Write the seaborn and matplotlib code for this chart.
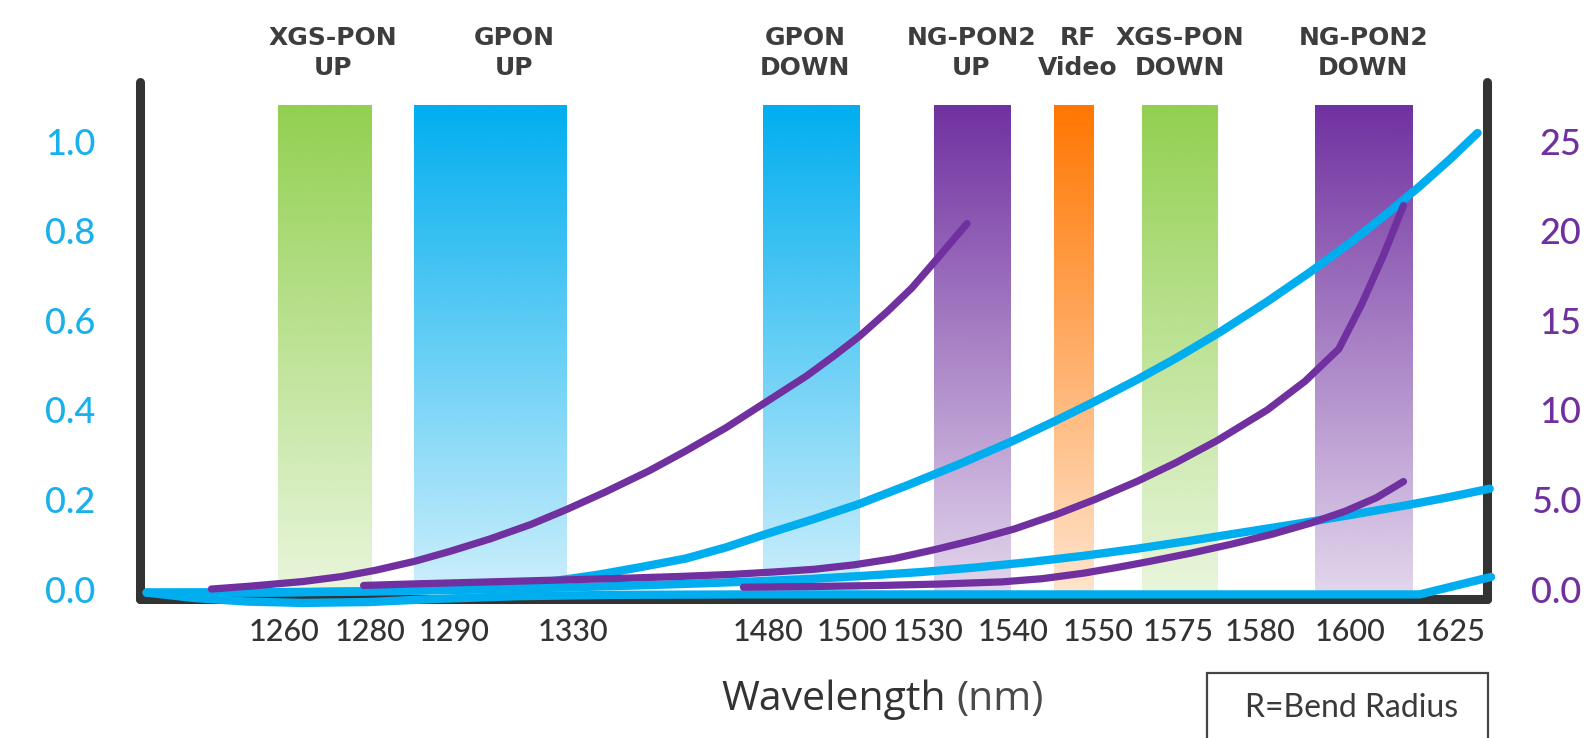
import numpy as np
import pandas as pd
import seaborn as sns
import matplotlib.pyplot as plt
from matplotlib.colors import to_rgb
from matplotlib.patches import Rectangle

# x is an axis position from 0 (left spine) to 100 (right spine); the wavelength
# labels are not evenly spaced, so they are placed on that position scale
tick_pos = [10.7, 17.1, 23.3, 32.15, 46.6, 52.9, 58.5, 64.8, 71.1, 77.1, 83.15, 89.8, 97.25]
tick_labels = ["1260", "1280", "1290", "1330", "1480", "1500", "1530",
               "1540", "1550", "1575", "1580", "1600", "1625"]

band_names = ["XGS-PON\nUP", "GPON\nUP", "GPON\nDOWN", "NG-PON2\nUP",
              "RF\nVideo", "XGS-PON\nDOWN", "NG-PON2\nDOWN"]
band_start = [10.25, 20.35, 46.25, 58.95, 67.85, 74.4, 87.25]
band_end = [17.2, 31.7, 53.4, 64.6, 70.8, 80.0, 94.5]
band_label_pos = [14.3, 27.8, 49.4, 61.7, 69.6, 77.2, 90.8]
band_colors = ["#92d050", "#00aeef", "#00aeef", "#7030a0",
               "#ff7600", "#92d050", "#7030a0"]

# cyan curves, left axis (0 - 1.0)
cyan_b_x = [0.5, 10, 20, 25, 28, 31, 34, 37, 40.5, 43.5, 46.4, 50, 53.4, 57, 61, 64.9,
            68, 70.9, 74, 76.9, 80.2, 83.7, 86.8, 89.8, 92.5, 95, 97.2, 99.3]
cyan_b_y = [-0.008, -0.008, -0.004, 0.003, 0.009, 0.019, 0.032, 0.048, 0.068, 0.093,
            0.122, 0.156, 0.190, 0.232, 0.281, 0.332, 0.376, 0.419, 0.467, 0.515,
            0.574, 0.642, 0.706, 0.772, 0.836, 0.899, 0.958, 1.018]
cyan_e_x = [0.5, 10, 20, 27, 32, 37, 42, 46.4, 50, 54, 58, 62, 66, 70, 74, 78, 82,
            86, 90, 94, 97, 100.2]
cyan_e_y = [-0.008, -0.007, -0.004, 0.0, 0.004, 0.008, 0.013, 0.018, 0.023, 0.030,
            0.038, 0.048, 0.060, 0.074, 0.090, 0.108, 0.127, 0.146, 0.166, 0.187,
            0.204, 0.224]
cyan_f_x = [0.5, 4, 8, 12, 17, 22, 28, 35, 45, 60, 80, 95.0, 100.3]
cyan_f_y = [-0.008, -0.020, -0.028, -0.031, -0.029, -0.022, -0.016, -0.013,
            -0.012, -0.012, -0.012, -0.012, 0.027]

# purple curves, right axis (0 - 25)
purple_a_x = [5.3, 8, 10.3, 12.1, 15, 17.5, 20.4, 23, 26, 29, 31.7, 34.5, 37.8, 40.5,
              43.5, 46.4, 49.5, 51.5, 53.4, 55.5, 57.3, 59.2, 61.4]
purple_a_y = [0.0, 0.15, 0.3, 0.42, 0.7, 1.05, 1.55, 2.1, 2.8, 3.6, 4.45, 5.4, 6.6,
              7.7, 9.0, 10.4, 11.9, 13.0, 14.1, 15.5, 16.8, 18.45, 20.4]
purple_c_x = [16.6, 20, 25, 30, 35, 40, 44, 47, 50, 53, 56, 59, 62, 64.9, 68, 70.9,
              74, 76.9, 80, 83.7, 86.5, 89, 90.7, 92.3, 93.8]
purple_c_y = [0.2, 0.28, 0.38, 0.48, 0.58, 0.7, 0.82, 0.95, 1.1, 1.35, 1.7, 2.2, 2.75,
              3.35, 4.15, 5.0, 6.0, 7.05, 8.3, 10.0, 11.6, 13.4, 15.9, 18.6, 21.4]
purple_d_x = [44.8, 50, 55, 59.4, 64, 67, 70, 72.5, 75, 78, 81, 84, 87, 89.5, 91.8, 93.8]
purple_d_y = [0.1, 0.14, 0.2, 0.28, 0.4, 0.58, 0.88, 1.2, 1.55, 2.0, 2.5, 3.05, 3.7,
              4.35, 5.1, 6.0]

CYAN = "#00aeef"
PURPLE = "#7030a0"
DARK = "#333333"

cyan_df = pd.concat([
    pd.DataFrame({"pos": cyan_b_x, "val": cyan_b_y, "curve": "b"}),
    pd.DataFrame({"pos": cyan_e_x, "val": cyan_e_y, "curve": "e"}),
    pd.DataFrame({"pos": cyan_f_x, "val": cyan_f_y, "curve": "f"}),
])
purple_df = pd.concat([
    pd.DataFrame({"pos": purple_a_x, "val": purple_a_y, "curve": "a"}),
    pd.DataFrame({"pos": purple_c_x, "val": purple_c_y, "curve": "c"}),
    pd.DataFrame({"pos": purple_d_x, "val": purple_d_y, "curve": "d"}),
])

sns.set_style("white")
plt.rcParams['font.family'] = ['Lato', 'DejaVu Sans']

fig = plt.figure(figsize=(15.89, 7.38), dpi=100)
ax = fig.add_axes([0.0881, 0.1883, 0.8477, 0.7005])
ax2 = ax.twinx()

y_lo, y_hi = -0.0223, 1.1317
band_lo, band_hi = -0.008, 1.080

# gradient bands: full colour at the top fading towards the bottom
for x0, x1, c in zip(band_start, band_end, band_colors):
    grad = np.ones((256, 1, 4))
    grad[:, 0, :3] = to_rgb(c)
    grad[:, 0, 3] = np.linspace(1.0, 0.2, 256)
    ax.imshow(grad, extent=[x0, x1, band_lo, band_hi], origin="upper",
              aspect="auto", interpolation="bilinear", zorder=1)

for x, name in zip(band_label_pos, band_names):
    ax.text(x, 1.197, name, ha="center", va="center", fontsize=18,
            fontweight="bold", family="DejaVu Sans", color="#3d3d3d",
            linespacing=1.3, clip_on=False)

sns.lineplot(data=cyan_df, x="pos", y="val", units="curve", estimator=None,
             sort=False, color=CYAN, linewidth=6, solid_capstyle="round",
             solid_joinstyle="round", clip_on=False, zorder=4, ax=ax)
sns.lineplot(data=purple_df, x="pos", y="val", units="curve", estimator=None,
             sort=False, color=PURPLE, linewidth=5.2, solid_capstyle="round",
             solid_joinstyle="round", clip_on=False, zorder=4, ax=ax2)

ax.set_xlim(0, 100)
ax.set_ylim(y_lo, y_hi)
ax2.set_ylim(y_lo * 25, y_hi * 25)

ax.set_xticks(tick_pos, tick_labels)
ax.set_yticks([0, 0.2, 0.4, 0.6, 0.8, 1.0], ["0.0", "0.2", "0.4", "0.6", "0.8", "1.0"])
ax2.set_yticks([0, 5, 10, 15, 20, 25], ["0.0", "5.0", "10", "15", "20", "25"])
ax.set_xlabel("")
ax.set_ylabel("")
ax2.set_ylabel("")

ax.tick_params(axis="x", length=0, pad=14, labelsize=22, labelcolor="#333333")
ax.tick_params(axis="y", length=0, pad=32, labelsize=26, labelcolor="#18b1ec")
ax2.tick_params(axis="y", length=0, pad=68, labelsize=26, labelcolor=PURPLE)
for lab in ax2.get_yticklabels():
    lab.set_horizontalalignment("right")
for lab in ax.get_xticklabels() + ax.get_yticklabels() + ax2.get_yticklabels():
    lab.set_fontweight("medium")

ax.spines["top"].set_visible(False)
for s in ["left", "right", "bottom"]:
    ax.spines[s].set_linewidth(6.5)
    ax.spines[s].set_color(DARK)
    ax.spines[s].set_capstyle("round")
for s in ax2.spines.values():
    s.set_visible(False)
ax.grid(False)
ax2.grid(False)

fig.text(946 / 1589, 1 - 700 / 738, "Wavelength", ha="right", va="center",
         fontsize=29.5, family="Open Sans", color="#333333")
fig.text(956 / 1589, 1 - 700 / 738, "(nm)", ha="left", va="center",
         fontsize=29.5, family="Open Sans", color="#4a4a4a")

fig.patches.append(Rectangle((1207 / 1589, -0.05), 281 / 1589, 0.05 + 65 / 738,
                             transform=fig.transFigure, fill=False,
                             edgecolor="#444444", lw=1.6))
fig.text(1352 / 1589, 1 - 708 / 738, "R=Bend Radius", ha="center", va="center",
         fontsize=23, color="#3a3a3a")

plt.savefig("out.png", dpi=100)
